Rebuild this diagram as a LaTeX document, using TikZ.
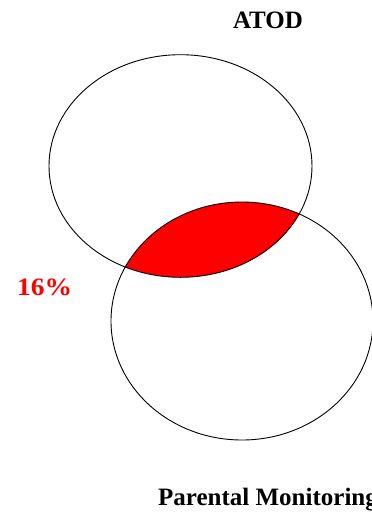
\documentclass[tikz,border=0pt]{standalone}
\usepackage{fontspec}
\setmainfont{Liberation Serif}
\begin{document}
\begin{tikzpicture}[x=1pt,y=-1pt,
  outline/.style={draw=black,line width=0.9pt},
  label/.style={font=\fontsize{25}{25}\selectfont\bfseries,inner sep=0pt}]
\useasboundingbox[fill=white] (0,0) rectangle (372,512);
% red intersection
\begin{scope}
  \clip (180.5,166) ellipse [x radius=131.5pt, y radius=111.3pt];
  \fill[red] (242,321) ellipse [x radius=131pt, y radius=119pt];
\end{scope}
\draw[outline] (180.5,166) ellipse [x radius=131.5pt, y radius=111.3pt];
\draw[outline] (242,321) ellipse [x radius=131pt, y radius=119pt];
\node[label,anchor=base] (atod) at (268,28) {ATOD};
\node[label,anchor=base,text=red,xscale=1.1] (pct) at (44.5,295) {16\%};
\node[label,anchor=base west] (pm) at (158,505) {Parental Monitoring};
\end{tikzpicture}
\end{document}
